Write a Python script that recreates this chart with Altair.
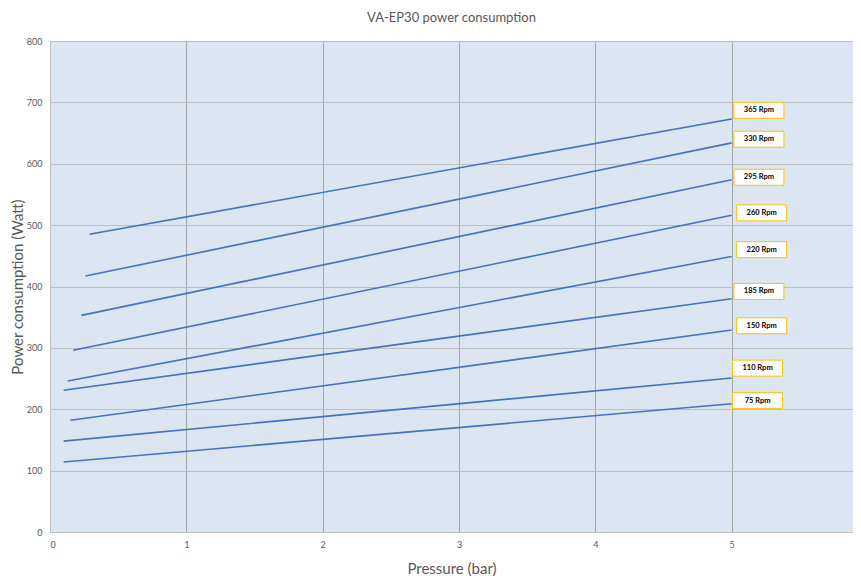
import altair as alt
import pandas as pd

rpm = [365, 330, 295, 260, 220, 185, 150, 110, 75]
p_start = [0.29, 0.26, 0.23, 0.17, 0.13, 0.10, 0.15, 0.10, 0.10]
w_start = [485, 417, 353, 296, 246, 231, 182, 148, 114]
p_end = [5, 5, 5, 5, 5, 5, 5, 5, 5]
w_end = [673, 634, 574, 516, 449, 380, 329, 251, 209]
label_x = [5.2, 5.2, 5.2, 5.22, 5.22, 5.2, 5.22, 5.19, 5.19]
label_y = [687, 640, 578, 520, 460, 392, 336, 267, 214]

rows = []
for r, ps, ws, pe, we in zip(rpm, p_start, w_start, p_end, w_end):
    rows.append({"rpm": r, "p": ps, "w": ws})
    rows.append({"rpm": r, "p": pe, "w": we})
lines_df = pd.DataFrame(rows)
labels_df = pd.DataFrame({
    "rpm": rpm,
    "lx": label_x,
    "ly": label_y,
    "txt": [f"{r} Rpm" for r in rpm],
})

FONT = "Lato"
GREY = "#595959"

xscale = alt.Scale(domain=[0, 5.89], nice=False, zero=False)
yscale = alt.Scale(domain=[0, 800], nice=False)

xaxis = alt.Axis(values=[0, 1, 2, 3, 4, 5], format="d", title="Pressure (bar)", grid=True,
                 gridColor="#A6A6A6", ticks=False, domainColor="#BFBFBF",
                 labelColor=GREY, labelFont=FONT, labelFontSize=9, labelPadding=8,
                 titleColor=GREY, titleFont=FONT, titleFontSize=15,
                 titleFontWeight="normal", titlePadding=12)
yaxis = alt.Axis(values=list(range(0, 801, 100)), format="d", title="Power consumption (Watt)",
                 grid=True, gridColor="#BFBFBF", ticks=False, domainColor="#BFBFBF",
                 labelColor=GREY, labelFont=FONT, labelFontSize=9, labelPadding=8,
                 titleColor=GREY, titleFont=FONT, titleFontSize=15,
                 titleFontWeight="normal", titlePadding=1)

lines = alt.Chart(lines_df).mark_line(color="#4472C4", strokeWidth=1.6).encode(
    x=alt.X("p:Q", scale=xscale, axis=xaxis),
    y=alt.Y("w:Q", scale=yscale, axis=yaxis),
    detail="rpm:N",
)

box_path = "M-1,-0.32L1,-0.32L1,0.32L-1,0.32Z"
boxes = alt.Chart(labels_df).mark_point(
    shape=box_path, size=2500, filled=True, fill="white", stroke="#FFC000",
    strokeWidth=1, opacity=1
).encode(
    x=alt.X("lx:Q", scale=xscale),
    y=alt.Y("ly:Q", scale=yscale),
)

texts = alt.Chart(labels_df).mark_text(
    font=FONT, fontSize=7.5, fontWeight="bold", color="#000000"
).encode(
    x=alt.X("lx:Q", scale=xscale),
    y=alt.Y("ly:Q", scale=yscale),
    text="txt:N",
)

chart = alt.layer(lines, boxes, texts).properties(
    width=803, height=491,
    title=alt.TitleParams("VA-EP30 power consumption", font=FONT, fontSize=13,
                          fontWeight="normal", color=GREY, anchor="middle", offset=12),
    autosize=alt.AutoSizeParams(type="none"),
    padding={"left": 42, "top": 33, "right": 0, "bottom": 46},
).configure_view(fill="#DCE6F2", stroke=None)

chart.save("out.html", embed_options={"renderer": "svg", "actions": False})
